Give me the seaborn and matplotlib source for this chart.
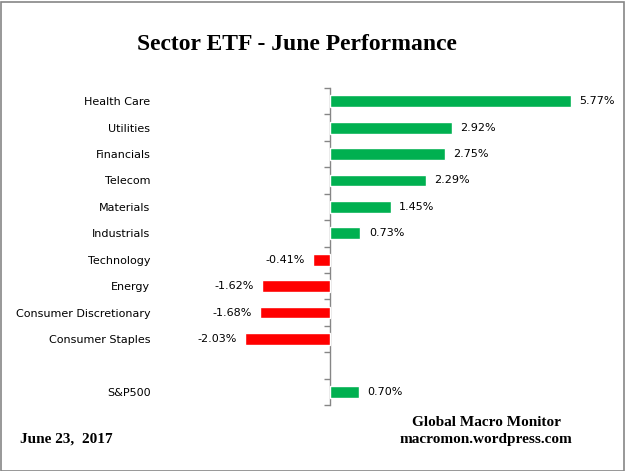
import matplotlib
matplotlib.use("Agg")
import matplotlib.pyplot as plt
import seaborn as sns
import pandas as pd
from matplotlib.patches import Rectangle

sectors = ["Health Care", "Utilities", "Financials", "Telecom", "Materials",
           "Industrials", "Technology", "Energy", "Consumer Discretionary",
           "Consumer Staples", "S&P500"]
values = [5.77, 2.92, 2.75, 2.29, 1.45, 0.73, -0.41, -1.62, -1.68, -2.03, 0.70]
order = sectors[:10] + [" "] + ["S&P500"]

GREEN = "#00B050"
RED = "#FF0000"
GRAY = "#868686"

df = pd.DataFrame({"sector": sectors, "value": values})
df["sign"] = ["pos" if v >= 0 else "neg" for v in values]

sns.set_theme(style="white")
plt.rcParams["font.family"] = ["DejaVu Sans"]
plt.rcParams["text.color"] = "black"

W, H = 626, 471
fig = plt.figure(figsize=(W / 100, H / 100), dpi=100)
ax_left, ax_right, ax_top, ax_bot = 156, 615, 88, 405
ax = fig.add_axes([ax_left / W, 1 - ax_bot / H, (ax_right - ax_left) / W, (ax_bot - ax_top) / H])

sns.barplot(data=df, y="sector", x="value", hue="sign", order=order,
            palette={"pos": GREEN, "neg": RED}, dodge=False, width=0.45,
            legend=False, ax=ax, saturation=1)

px_per_unit = (571 - 330) / 5.77
xmin = -(330 - ax_left) / px_per_unit
xmax = (ax_right - 330) / px_per_unit
ax.set_xlim(xmin, xmax)
ax.set_ylim(11.5, -0.5)

for c in ax.containers:
    ax.bar_label(c, labels=[f"{v:.2f}%" for v in c.datavalues], padding=6,
                 fontsize=8, color="black")

for s in ax.spines.values():
    s.set_visible(False)
ax.set_xlabel("")
ax.set_ylabel("")
ax.set_xticks([])
ax.tick_params(axis="y", which="both", length=0, pad=4, labelsize=8,
               labelcolor="black", left=False, right=False)

loc = (0 - xmin) / (xmax - xmin)
sec = ax.secondary_yaxis(loc)
sec.yaxis.set_ticks_position("left")
sec.set_yticks([i - 0.5 for i in range(13)])
sec.set_yticklabels([])
sec.yaxis.set_minor_locator(matplotlib.ticker.NullLocator())
sec.tick_params(axis="y", which="major", direction="out", length=4, color=GRAY,
                width=1, left=True, right=False)
sec.spines["left"].set_color(GRAY)
sec.spines["left"].set_linewidth(1)
sec.spines["right"].set_visible(False)

fig.text(297 / W, 1 - 45 / H, "Sector ETF - June Performance", ha="center", va="center",
         fontsize=17, fontweight="bold", family="Liberation Serif", color="black")
fig.text(486 / W, 1 - 422 / H, "Global Macro Monitor", ha="center", va="center",
         fontsize=11, fontweight="bold", family="Liberation Serif", color="black")
fig.text(486 / W, 1 - 439 / H, "macromon.wordpress.com", ha="center", va="center",
         fontsize=11, fontweight="bold", family="Liberation Serif", color="black")
fig.text(20 / W, 1 - 439 / H, "June 23,  2017", ha="left", va="center",
         fontsize=11, fontweight="bold", family="Liberation Serif", color="black")

fig.patches.append(Rectangle((0.5 / W, 0.5 / H), 1 - 2.5 / W, 1 - 2.5 / H,
                             transform=fig.transFigure, fill=False,
                             edgecolor=GRAY, linewidth=1.2))

fig.savefig("out.png", dpi=100)
